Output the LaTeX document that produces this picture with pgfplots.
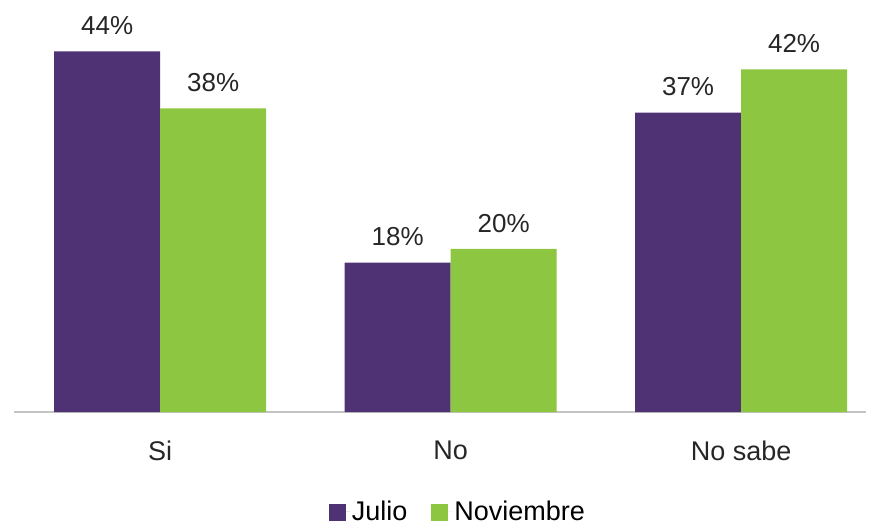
\documentclass[border=0pt]{standalone}
\usepackage{pgfplots}
\pgfplotsset{compat=1.18}
\usepackage{fontspec}
\setmainfont{Liberation Sans}
\usetikzlibrary{calc}
\definecolor{jul}{HTML}{4F3273}
\definecolor{nov}{HTML}{8DC641}
\definecolor{axgray}{HTML}{C4C4C4}
\begin{document}
\begin{tikzpicture}
\begin{axis}[name=ax,
  scale only axis, width=852pt, height=408pt,
  xmin=-0.503, xmax=2.43, ymin=0, ymax=50,
  axis y line=none, axis x line*=bottom,
  axis line style={axgray, line width=2.5pt, -},
  xtick={0,1,2}, xticklabels={Si,No,No sabe},
  major tick length=0pt,
  xticklabel style={font=\fontsize{27}{32}\selectfont, text=black!85, yshift=-25pt},
  ybar=0pt, bar width=106pt,
  point meta=explicit symbolic,
  nodes near coords={\pgfplotspointmeta\%},
  every node near coord/.append style={font=\fontsize{26}{31}\selectfont, text=black!85, yshift=13pt},
  legend columns=2,
  legend style={draw=none, fill=none, at={(0.521,-0.245)}, anchor=center, font=\fontsize{27}{32}\selectfont,
    /tikz/every even column/.append style={column sep=22pt}},
  legend image code/.code={\fill[#1] (-9pt,-9pt) rectangle (8pt,8pt); \path (8pt,0pt) -- (12pt,0pt);},
]
\addplot[fill=jul, draw=none] coordinates {(0,44.2) [44] (1,18.3) [18] (2,36.7) [37]};
\addplot[fill=nov, draw=none] coordinates {(0,37.2) [38] (1,20.0) [20] (2,42.0) [42]};
\legend{Julio,Noviembre}
\end{axis}
\pgfresetboundingbox
\path ($(ax.south west)+(-14pt,-115pt)$) rectangle ($(ax.south west)+(863pt,412pt)$);
\end{tikzpicture}
\end{document}
